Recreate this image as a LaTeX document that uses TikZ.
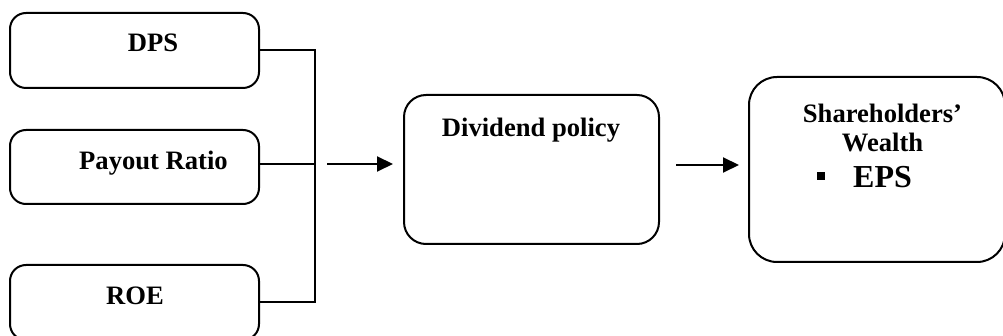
\documentclass[tikz,border=0pt]{standalone}
\usepackage{fontspec}
\setmainfont{Liberation Serif}
\usetikzlibrary{arrows.meta}
\begin{document}
\begin{tikzpicture}[x=1pt,y=-1pt,
  box/.style={draw=black,line width=2pt,rounded corners=#1,inner sep=0pt},
  box/.default=16pt,
  lbl/.style={anchor=base,inner sep=0pt,font=\bfseries\fontsize{26.6}{30}\selectfont},
  big/.style={anchor=base,inner sep=0pt,font=\bfseries\fontsize{32}{36}\selectfont},
  conn/.style={line width=2pt,line join=miter},
  arr/.style={line width=2pt,-{Triangle[length=16pt,width=15pt]}}]
\useasboundingbox (0,0) rectangle (1003,336);
\clip (0,0) rectangle (1003,336);
% boxes
\node[box,minimum width=249pt,minimum height=75pt] (dps) at (134.5,50.5) {};
\node[box,minimum width=249pt,minimum height=74pt] (pay) at (134.5,167) {};
\node[box,minimum width=249pt,minimum height=75pt] (roe) at (134.5,302.5) {};
\node[box=22pt,minimum width=255pt,minimum height=149pt] (div) at (531.5,169.5) {};
\node[box=28pt,minimum width=256pt,minimum height=185pt] (sh) at (877,169.5) {};
% texts
\node[lbl] (tdps) at (153,52) {DPS};
\node[lbl] (tpay) at (153.5,170) {Payout Ratio};
\node[lbl] (troe) at (135,305) {ROE};
\node[lbl] (tdiv) at (531,137) {Dividend policy};
\node[lbl] (tsh1) at (882.5,123) {Shareholders’};
\node[lbl] (tsh2) at (882.5,152) {Wealth};
\node[big] (teps) at (882.5,188) {EPS};
\node[fill=black,inner sep=0pt,minimum size=8pt] (bul) at (821,176) {};
% bracket
\coordinate (jt) at (315,50.5);
\coordinate (jb) at (315,302.5);
\draw[conn] (dps.east) -- (jt) -- (jb) -- (roe.east);
\draw[conn] (pay.east |- 0,164) -- (jt |- 0,164);
% arrows
\coordinate (a1s) at (327,164);
\coordinate (a1e) at (393,164);
\coordinate (a2s) at (676,165);
\coordinate (a2e) at (739,165);
\draw[arr] (a1s) -- (a1e);
\draw[arr] (a2s) -- (a2e);
\end{tikzpicture}
\end{document}
